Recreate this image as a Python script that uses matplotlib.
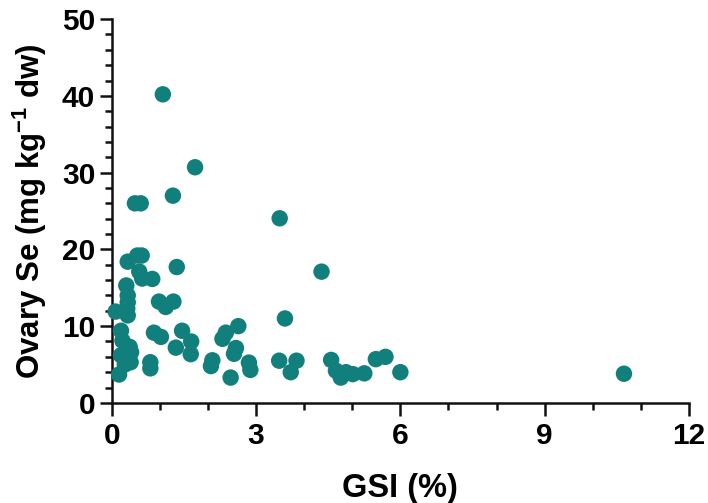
#!/usr/bin/env python3
"""Scatter of ovary Se against GSI."""

import matplotlib

matplotlib.use("Agg")
import matplotlib.pyplot as plt
from matplotlib.ticker import MultipleLocator

# GSI (%) and ovary Se (mg kg-1 dw)
gsi = [
    1.06, 1.73, 1.27, 0.48, 0.60, 3.49, 4.36, 0.33, 0.53, 0.62,
    1.35, 0.57, 0.63, 0.84, 0.30, 0.33, 0.33, 0.32, 0.08, 0.33,
    0.98, 1.12, 1.28, 3.60, 2.63, 0.19, 0.22, 0.37, 0.19, 0.39,
    0.15, 0.875, 1.02, 1.46, 1.65, 1.33, 1.64, 2.37, 2.30, 2.58,
    2.54, 0.80, 0.80, 2.09, 2.06, 2.47, 2.85, 2.88, 3.48, 3.84,
    3.72, 4.56, 4.66, 4.76, 4.87, 5.01, 5.25, 5.49, 5.69, 6.00,
    10.65, 0.40, 0.27,
]
ovary_se = [
    40.2, 30.7, 27.0, 26.0, 26.0, 24.05, 17.1, 18.4, 19.2, 19.2,
    17.7, 17.1, 16.2, 16.15, 15.3, 14.0, 13.1, 12.3, 11.9, 11.4,
    13.2, 12.5, 13.2, 11.0, 10.0, 9.4, 8.1, 7.3, 6.2, 5.3,
    3.7, 9.15, 8.6, 9.4, 8.0, 7.2, 6.35, 9.15, 8.35, 7.15,
    6.4, 5.3, 4.5, 5.55, 4.8, 3.3, 5.25, 4.3, 5.5, 5.5,
    4.0, 5.6, 4.2, 3.3, 4.0, 3.75, 3.85, 5.7, 6.0, 4.0,
    3.8, 6.6, 5.0,
]

plt.rcParams.update(
    {
        "font.family": ["Liberation Sans", "DejaVu Sans"],
        "font.weight": "bold",
        "mathtext.fontset": "custom",
        "mathtext.rm": "Liberation Sans:bold",
        "mathtext.bf": "Liberation Sans:bold",
        "mathtext.default": "bf",
    }
)

fig = plt.figure(figsize=(7.08, 5.03), dpi=100)
ax = fig.add_axes([0.158, 0.199, 0.815, 0.763])
ax.scatter(gsi, ovary_se, s=140, color="#117f7c", edgecolors="none", zorder=3, clip_on=False)

ax.set_xlim(0, 12)
ax.set_ylim(0, 50)
ax.xaxis.set_major_locator(MultipleLocator(3))
ax.xaxis.set_minor_locator(MultipleLocator(1))
ax.yaxis.set_major_locator(MultipleLocator(10))
ax.yaxis.set_minor_locator(MultipleLocator(2))

for side in ("top", "right"):
    ax.spines[side].set_visible(False)
for side in ("left", "bottom"):
    ax.spines[side].set_linewidth(1.8)
    ax.spines[side].set_color("#111111")

ax.tick_params(which="major", length=9, width=1.8, color="#111111", labelsize=21.5, pad=3)
ax.tick_params(which="minor", length=5, width=1.8, color="#111111")
ax.tick_params(axis="x", which="major", pad=5)
for label in ax.get_xticklabels() + ax.get_yticklabels():
    label.set_fontweight("bold")

ax.set_xlabel("GSI (%)", fontsize=23.5, fontweight="bold", labelpad=16)
ax.set_ylabel(r"Ovary Se (mg kg$^{-1}$ dw)", fontsize=22.5, fontweight="bold", labelpad=9)

fig.savefig("out.png", dpi=100)
plt.close(fig)
